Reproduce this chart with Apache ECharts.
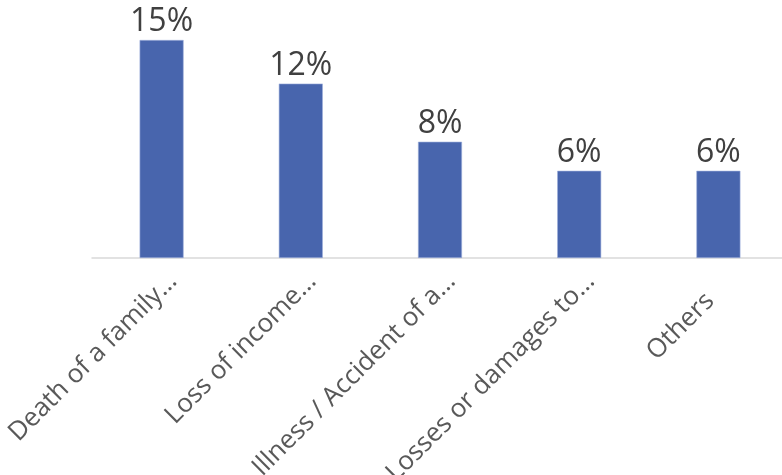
<!DOCTYPE html>
<html>
<head>
<meta charset="utf-8">
<script src="https://cdn.jsdelivr.net/npm/echarts@6/dist/echarts.min.js"></script>
<style>
  html, body { margin: 0; padding: 0; background: #fff; }
  #chart { width: 782px; height: 475px; }
</style>
</head>
<body>
<div id="chart"></div>
<script>
// categories as shown on the axis (already truncated in the source)
var categories = [
  'Death of a family\u2026',
  'Loss of income\u2026',
  'Illness / Accident of a\u2026',
  'Losses or damages to\u2026',
  'Others'
];
var shares = [15, 12, 8, 6, 6];

var labelFont = { color: '#595959', fontFamily: 'Open Sans', fontSize: 26 };

var myChart = echarts.init(document.getElementById('chart'));
var option = {
  animation: false,
  grid: { left: 92, width: 696, top: 40, bottom: 217, outerBoundsMode: 'none', containLabel: false },
  xAxis: {
    type: 'category',
    data: categories,
    axisLine: { lineStyle: { color: '#d9d9d9', width: 1.5 } },
    axisTick: { show: false },
    axisLabel: Object.assign({
      interval: 0,
      rotate: 45,
      margin: 8,
      padding: [32, 0, 0, 0],
      // short labels sit further back along the slant, as in the source
      formatter: function (v) {
        return v.indexOf('\u2026') < 0 ? '{s|' + v + '}' : '{n|' + v + '}';
      },
      rich: {
        n: Object.assign({}, labelFont),
        s: Object.assign({ padding: [0, 28, 0, 0] }, labelFont)
      }
    }, labelFont)
  },
  yAxis: {
    type: 'value',
    min: 0,
    max: 15,
    show: false
  },
  series: [{
    type: 'bar',
    data: shares,
    barWidth: 44,
    itemStyle: { color: '#4865ad', borderColor: '#9fb0dc', borderWidth: 0.6 },
    label: {
      show: true,
      position: 'top',
      distance: 2,
      formatter: '{c}%',
      color: '#404040',
      fontFamily: 'Open Sans',
      fontSize: 32
    }
  }]
};
myChart.setOption(option);
</script>
</body>
</html>
